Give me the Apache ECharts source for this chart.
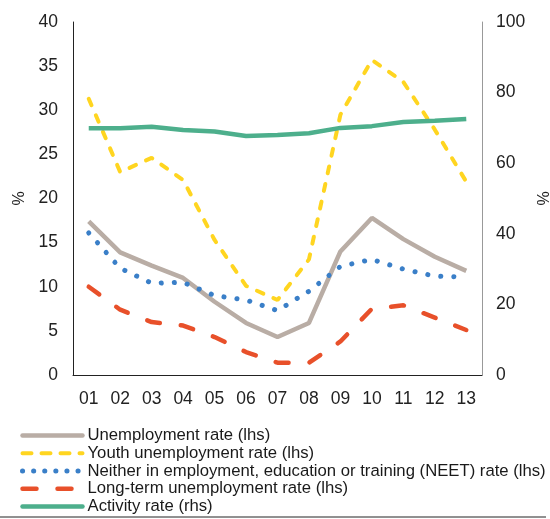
<!DOCTYPE html>
<html>
<head>
	<meta charset="utf-8">
	<title>Labour market</title>
	<script src="https://cdn.jsdelivr.net/npm/echarts@6/dist/echarts.min.js"></script>
</head>
<body style="margin:0">
	<div id="box" style="width:550px;height:519px;"></div>
	<script type="text/javascript">
		// x axis categories
		var years = ['01', '02', '03', '04', '05', '06', '07', '08', '09', '10', '11', '12', '13']
		// left axis series (%)
		var unemployment = [17.4, 13.9, 12.4, 11.0, 8.3, 5.9, 4.3, 5.9, 14.0, 17.8, 15.4, 13.4, 11.8]
		var youth = [31.3, 23.0, 24.6, 22.1, 15.3, 10.1, 8.5, 13.1, 29.5, 35.7, 33.2, 27.8, 21.9]
		var neet = [16.1, 12.1, 10.4, 10.5, 9.0, 8.5, 7.3, 9.5, 12.3, 13.1, 12.0, 11.2, 11.1]
		var longTerm = [10.0, 7.4, 6.0, 5.6, 4.3, 2.6, 1.4, 1.4, 3.8, 7.5, 7.9, 6.5, 5.1]
		// right axis series (%)
		var activity = [69.9, 69.9, 70.3, 69.4, 69.0, 67.7, 68.0, 68.5, 70.0, 70.5, 71.7, 72.0, 72.5]

		var names = ['Unemployment rate (lhs)', 'Youth unemployment rate (lhs)',
			'Neither in employment, education or training (NEET) rate (lhs)',
			'Long-term unemployment rate (lhs)', 'Activity rate (rhs)']

		var font = 'Liberation Sans, Arial, sans-serif'
		var chart = echarts.init(document.getElementById('box'))

		// styles: [colour, width, dash in plot, dash in legend]
		var styles = [
			['#B9ADA5', 4.5, 'solid', 'solid'],
			['#FFD520', 4, [7, 11], [9, 10]],
			['#3A7FC8', 5, [0.1, 13], [0.1, 11]],
			['#E8502A', 4.5, [13, 21], [14, 21]],
			['#4DAF8C', 4.5, 'solid', 'solid']
		]
		var seriesData = [unemployment, youth, neet, longTerm, activity]

		var series = names.map(function (n, i) {
			var s = styles[i]
			return {
				name: n,
				type: 'line',
				data: seriesData[i],
				yAxisIndex: i === 4 ? 1 : 0,
				symbol: 'none',
				lineStyle: { color: s[0], width: s[1], type: s[2], cap: s[2] === 'solid' ? 'butt' : 'round' },
				itemStyle: { color: s[0] }
			}
		})
		var legendData = names.map(function (n, i) {
			var s = styles[i]
			return {
				name: n,
				itemStyle: { opacity: 0 },
				lineStyle: { color: s[0], width: s[1], type: s[3], cap: 'round' }
			}
		})

		chart.setOption({
			animation: false,
			grid: { left: 73, right: 68, top: 22, bottom: 144, outerBoundsMode: 'none', containLabel: false },
			legend: {
				orient: 'vertical',
				left: 15,
				top: 422,
				height: 100,
				itemWidth: 60,
				itemHeight: 14,
				itemGap: 0.75,
				textStyle: { fontFamily: font, fontSize: 16.7, lineHeight: 16, color: '#1a1a1a' },
				data: legendData
			},
			xAxis: {
				type: 'category',
				data: years,
				axisLine: { lineStyle: { color: '#222', width: 1 } },
				axisTick: { show: false },
				axisLabel: { fontFamily: font, fontSize: 17.5, color: '#222', margin: 15 }
			},
			yAxis: [{
				type: 'value', min: 0, max: 40, interval: 5,
				name: '%', nameLocation: 'middle', nameGap: 45, nameRotate: 90,
				nameTextStyle: { fontFamily: font, fontSize: 16, color: '#222' },
				axisLine: { show: true, lineStyle: { color: '#222' } },
				axisTick: { show: false },
				splitLine: { show: false },
				axisLabel: { fontFamily: font, fontSize: 17.5, color: '#222', margin: 15 }
			}, {
				type: 'value', min: 0, max: 100, interval: 20,
				name: '%', nameLocation: 'middle', nameGap: 52, nameRotate: 90,
				nameTextStyle: { fontFamily: font, fontSize: 16, color: '#222' },
				axisLine: { show: true, lineStyle: { color: '#999' } },
				axisTick: { show: false },
				splitLine: { show: false },
				axisLabel: { fontFamily: font, fontSize: 17.5, color: '#222', margin: 14 }
			}],
			series: series,
			graphic: [{
				type: 'line',
				shape: { x1: 0, y1: 517, x2: 546, y2: 517 },
				style: { stroke: '#222', lineWidth: 1 }
			}]
		})
	</script>
</body>
</html>
